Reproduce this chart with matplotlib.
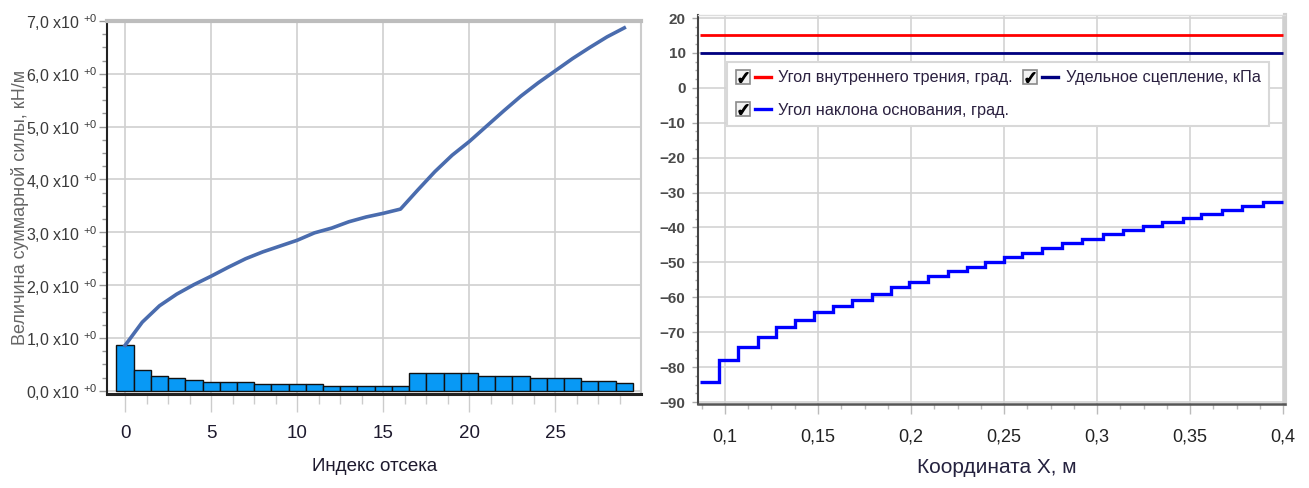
import matplotlib
matplotlib.use('Agg')
import matplotlib.pyplot as plt
from matplotlib.lines import Line2D
from matplotlib.legend_handler import HandlerTuple
from matplotlib.ticker import MultipleLocator, FuncFormatter

FONT = ['Liberation Sans', 'DejaVu Sans']
plt.rcParams['font.family'] = FONT
plt.rcParams['mathtext.default'] = 'regular'

# --- левый график: силы по отсекам ---
slice_idx = list(range(30))
slice_force = [0.86, 0.40, 0.28, 0.235, 0.20, 0.17, 0.17, 0.17, 0.13, 0.13,
               0.13, 0.13, 0.09, 0.09, 0.09, 0.09, 0.09, 0.33, 0.33, 0.33,
               0.33, 0.285, 0.285, 0.285, 0.235, 0.235, 0.235, 0.19, 0.19, 0.14]
total_force = [0.86, 1.30, 1.61, 1.83, 2.01, 2.17, 2.34, 2.50, 2.63, 2.74,
               2.85, 2.99, 3.08, 3.20, 3.29, 3.36, 3.44, 3.80, 4.15, 4.46,
               4.72, 5.01, 5.30, 5.58, 5.83, 6.06, 6.29, 6.50, 6.70, 6.87]

# --- правый график: параметры по координате X ---
x_edges = [0.0865, 0.0968, 0.1072, 0.1177, 0.1276, 0.1376, 0.148, 0.158,
           0.1685, 0.179, 0.189, 0.199, 0.209, 0.220, 0.230, 0.240, 0.250,
           0.2598, 0.2706, 0.2813, 0.292, 0.303, 0.314, 0.3247, 0.335, 0.346,
           0.356, 0.367, 0.378, 0.389, 0.400]
base_angle = [-84.4, -78.0, -74.2, -71.3, -68.6, -66.5, -64.3, -62.5, -60.8, -59.0,
              -57.1, -55.6, -53.9, -52.5, -51.3, -50.0, -48.5, -47.2, -45.8, -44.5,
              -43.2, -41.9, -40.7, -39.6, -38.4, -37.3, -36.1, -35.0, -33.8, -32.6]
friction_angle = 15.0
cohesion = 10.0

fig = plt.figure(figsize=(13.09, 4.88), dpi=100)
W, H = 1309, 488

# left axes
ax1 = fig.add_axes([107 / W, (H - 394) / H, (641 - 107) / W, (394 - 21) / H])
ax1.bar(slice_idx, slice_force, width=1.0, color='#0899f5', edgecolor='#111111',
        linewidth=1.0, zorder=2)
ax1.plot(slice_idx, total_force, color='#4a6cae', linewidth=2.6, zorder=3)
ax1.set_xlim(-1.05, 29.97)
ax1.set_ylim(-0.06, 7.0)
ax1.xaxis.set_major_locator(MultipleLocator(5))
ax1.xaxis.set_minor_locator(MultipleLocator(1.25))
ax1.yaxis.set_major_locator(MultipleLocator(1))
ax1.yaxis.set_minor_locator(MultipleLocator(0.25))
ax1.yaxis.set_major_formatter(FuncFormatter(
    lambda v, p: f'{v:.1f}'.replace('.', ',') + r' x10 $^{+0}$'))
ax1.grid(True, which='major', color='#d0d0d0', linewidth=1.2, zorder=0)
ax1.set_axisbelow(True)
ax1.tick_params(axis='x', which='major', length=13, width=1, color='#cccccc',
                pad=9, labelsize=13.5, labelcolor='#1e1a2e')
ax1.tick_params(axis='x', which='minor', length=7, width=1, color='#cccccc')
ax1.tick_params(axis='y', which='major', length=6, width=1, color='#999999',
                pad=1, labelsize=11.5, labelcolor='#3a3a3a')
ax1.tick_params(axis='y', which='minor', length=3.5, width=1, color='#999999')
ax1.spines['left'].set_color('#222222')
ax1.spines['left'].set_linewidth(1.5)
ax1.spines['bottom'].set_color('#222222')
ax1.spines['bottom'].set_linewidth(2.2)
ax1.spines['top'].set_color('#bdbdbd')
ax1.spines['top'].set_linewidth(3)
ax1.spines['right'].set_color('#cccccc')
ax1.spines['right'].set_linewidth(1.5)
ax1.set_xlabel('Индекс отсека', fontsize=13.5, color='#1e1a2e')
ax1.xaxis.set_label_coords(0.502, -0.172)
ax1.set_ylabel('Величина суммарной силы, кН/м', fontsize=13, color='#666666')
ax1.yaxis.set_label_coords(-0.146, 0.5)

# right axes
ax2 = fig.add_axes([698 / W, (H - 404) / H, (1285 - 698) / W, (404 - 15) / H])
ax2.stairs(base_angle, x_edges, baseline=None, color='#0000ff', linewidth=2.4,
           zorder=3)
ax2.hlines(friction_angle, x_edges[0], x_edges[-1], color='#ff0000', linewidth=2,
           zorder=3)
ax2.hlines(cohesion, x_edges[0], x_edges[-1], color='#000080', linewidth=2,
           zorder=3)
ax2.set_xlim(0.0855, 0.401)
ax2.set_ylim(-90.57, 20.86)
ax2.xaxis.set_major_locator(MultipleLocator(0.05))
ax2.xaxis.set_minor_locator(MultipleLocator(0.0125))
ax2.yaxis.set_major_locator(MultipleLocator(10))
ax2.yaxis.set_minor_locator(MultipleLocator(2.5))
ax2.xaxis.set_major_formatter(FuncFormatter(lambda v, p: f'{v:g}'.replace('.', ',')))
ax2.grid(True, which='major', color='#d3d3d3', linewidth=1.2, zorder=0)
ax2.set_axisbelow(True)
ax2.tick_params(axis='x', which='major', length=7, width=1, color='#bbbbbb',
                pad=11, labelsize=13, labelcolor='#222222')
ax2.tick_params(axis='x', which='minor', length=3.5, width=1, color='#bbbbbb')
ax2.tick_params(axis='y', which='major', length=4, width=1, color='#aaaaaa',
                pad=5, labelsize=11)
ax2.tick_params(axis='y', which='minor', length=2.5, width=1, color='#aaaaaa')
for t in ax2.get_yticklabels():
    t.set_fontweight('bold')
    t.set_color('#4a4a4a')
ax2.spines['left'].set_color('#444444')
ax2.spines['left'].set_linewidth(1.5)
ax2.spines['bottom'].set_color('#555555')
ax2.spines['bottom'].set_linewidth(1.8)
ax2.spines['top'].set_color('#dddddd')
ax2.spines['top'].set_linewidth(1)
ax2.spines['right'].set_color('#d0d0d0')
ax2.spines['right'].set_linewidth(3)
ax2.set_xlabel('Координата X, м', fontsize=15, color='#25223f')
ax2.xaxis.set_label_coords(0.509, -0.14)

# legend with check boxes
box = Line2D([], [], marker='s', markersize=10, markerfacecolor='#f2f2f2',
             markeredgecolor='#8a8a8a', markeredgewidth=1.2, linestyle='none')
check = Line2D([], [], marker=r'$\checkmark$', markersize=7, color='black',
               linestyle='none')
h_phi = Line2D([], [], color='#ff0000', linewidth=2.4)
h_base = Line2D([], [], color='#0000ff', linewidth=2.4)
h_coh = Line2D([], [], color='#000080', linewidth=2.4)
handles = [((box, check), h_phi), ((box, check), h_base), ((box, check), h_coh)]
labels = ['Угол внутреннего трения, град.', 'Угол наклона основания, град.',
          'Удельное сцепление, кПа']
hmap = {h: HandlerTuple(ndivide=None, pad=0.25) for h in handles}
leg = ax2.legend(handles, labels, handler_map=hmap, ncol=2, loc='upper left',
                 bbox_to_anchor=(0.0494, 0.879), borderaxespad=0,
                 fontsize=11.7, handlelength=2.2, handletextpad=0.45,
                 columnspacing=0.6, labelspacing=1.1, borderpad=0.5,
                 fancybox=False, framealpha=1, edgecolor='#d8d8d8')
leg.get_frame().set_linewidth(1.5)
for t in leg.get_texts():
    t.set_color('#2b2140')

fig.savefig('out.png', dpi=100)
